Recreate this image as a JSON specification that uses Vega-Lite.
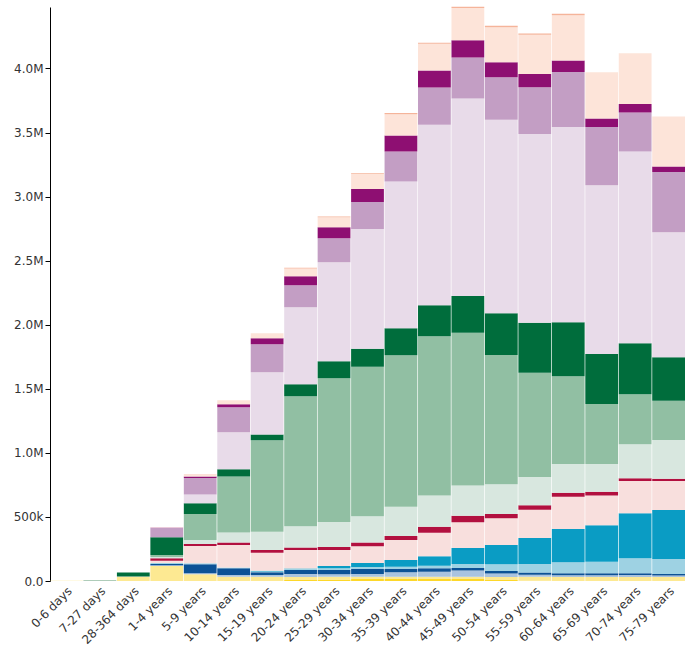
{
  "$schema": "https://vega.github.io/schema/vega-lite/v6.json",
  "width": 635,
  "height": 574,
  "autosize": "none",
  "padding": {"left": 50, "top": 7, "right": 12, "bottom": 69},
  "background": "white",
  "config": {"view": {"stroke": null}, "font": "DejaVu Sans"},
  "data": {"values": [
    {"age": "0-6 days", "Cause 01": 0, "Cause 02": 1000, "Cause 03": 500, "Cause 04": 0, "Cause 05": 0, "Cause 06": 0, "Cause 07": 0, "Cause 08": 0, "Cause 09": 0, "Cause 10": 0, "Cause 11": 0, "Cause 12": 0, "Cause 13": 0, "Cause 14": 0, "Cause 15": 0, "Cause 16": 0},
    {"age": "7-27 days", "Cause 01": 0, "Cause 02": 2000, "Cause 03": 2000, "Cause 04": 0, "Cause 05": 0, "Cause 06": 0, "Cause 07": 0, "Cause 08": 0, "Cause 09": 0, "Cause 10": 0, "Cause 11": 1000, "Cause 12": 0, "Cause 13": 0, "Cause 14": 0, "Cause 15": 0, "Cause 16": 0},
    {"age": "28-364 days", "Cause 01": 0, "Cause 02": 33000, "Cause 03": 1000, "Cause 04": 0, "Cause 05": 0, "Cause 06": 0, "Cause 07": 2000, "Cause 08": 0, "Cause 09": 0, "Cause 10": 0, "Cause 11": 31000, "Cause 12": 0, "Cause 13": 0, "Cause 14": 0, "Cause 15": 0, "Cause 16": 0},
    {"age": "1-4 years", "Cause 01": 0, "Cause 02": 117000, "Cause 03": 5000, "Cause 04": 10000, "Cause 05": 8000, "Cause 06": 0, "Cause 07": 18000, "Cause 08": 19000, "Cause 09": 10000, "Cause 10": 16000, "Cause 11": 138000, "Cause 12": 0, "Cause 13": 72000, "Cause 14": 3000, "Cause 15": 2000, "Cause 16": 0},
    {"age": "5-9 years", "Cause 01": 0, "Cause 02": 52000, "Cause 03": 8000, "Cause 04": 70000, "Cause 05": 8000, "Cause 06": 0, "Cause 07": 135000, "Cause 08": 16000, "Cause 09": 31000, "Cause 10": 203000, "Cause 11": 83000, "Cause 12": 70000, "Cause 13": 127000, "Cause 14": 13000, "Cause 15": 15000, "Cause 16": 2000},
    {"age": "10-14 years", "Cause 01": 0, "Cause 02": 34000, "Cause 03": 13000, "Cause 04": 52000, "Cause 05": 6000, "Cause 06": 0, "Cause 07": 176000, "Cause 08": 19000, "Cause 09": 78000, "Cause 10": 437000, "Cause 11": 57000, "Cause 12": 289000, "Cause 13": 195000, "Cause 14": 23000, "Cause 15": 31000, "Cause 16": 1000},
    {"age": "15-19 years", "Cause 01": 0, "Cause 02": 34000, "Cause 03": 13000, "Cause 04": 21000, "Cause 05": 6000, "Cause 06": 6000, "Cause 07": 140000, "Cause 08": 21000, "Cause 09": 143000, "Cause 10": 715000, "Cause 11": 44000, "Cause 12": 486000, "Cause 13": 218000, "Cause 14": 47000, "Cause 15": 39000, "Cause 16": 1000},
    {"age": "20-24 years", "Cause 01": 8000, "Cause 02": 23000, "Cause 03": 23000, "Cause 04": 31000, "Cause 05": 8000, "Cause 06": 5000, "Cause 07": 143000, "Cause 08": 21000, "Cause 09": 166000, "Cause 10": 1014000, "Cause 11": 94000, "Cause 12": 600000, "Cause 13": 172000, "Cause 14": 70000, "Cause 15": 62000, "Cause 16": 5000},
    {"age": "25-29 years", "Cause 01": 12000, "Cause 02": 22000, "Cause 03": 18000, "Cause 04": 34000, "Cause 05": 13000, "Cause 06": 18000, "Cause 07": 125000, "Cause 08": 23000, "Cause 09": 195000, "Cause 10": 1123000, "Cause 11": 133000, "Cause 12": 772000, "Cause 13": 187000, "Cause 14": 86000, "Cause 15": 78000, "Cause 16": 5000},
    {"age": "30-34 years", "Cause 01": 16000, "Cause 02": 18000, "Cause 03": 21000, "Cause 04": 39000, "Cause 05": 16000, "Cause 06": 31000, "Cause 07": 130000, "Cause 08": 29000, "Cause 09": 205000, "Cause 10": 1167000, "Cause 11": 140000, "Cause 12": 936000, "Cause 13": 211000, "Cause 14": 101000, "Cause 15": 117000, "Cause 16": 5000},
    {"age": "35-39 years", "Cause 01": 16000, "Cause 02": 18000, "Cause 03": 34000, "Cause 04": 26000, "Cause 05": 18000, "Cause 06": 52000, "Cause 07": 156000, "Cause 08": 31000, "Cause 09": 228000, "Cause 10": 1183000, "Cause 11": 211000, "Cause 12": 1146000, "Cause 13": 234000, "Cause 14": 125000, "Cause 15": 164000, "Cause 16": 10000},
    {"age": "40-44 years", "Cause 01": 16000, "Cause 02": 18000, "Cause 03": 39000, "Cause 04": 26000, "Cause 05": 20000, "Cause 06": 75000, "Cause 07": 182000, "Cause 08": 47000, "Cause 09": 245000, "Cause 10": 1242000, "Cause 11": 242000, "Cause 12": 1409000, "Cause 13": 291000, "Cause 14": 133000, "Cause 15": 208000, "Cause 16": 8000},
    {"age": "45-49 years", "Cause 01": 16000, "Cause 02": 18000, "Cause 03": 47000, "Cause 04": 21000, "Cause 05": 31000, "Cause 06": 125000, "Cause 07": 200000, "Cause 08": 52000, "Cause 09": 236000, "Cause 10": 1191000, "Cause 11": 288000, "Cause 12": 1541000, "Cause 13": 320000, "Cause 14": 135000, "Cause 15": 252000, "Cause 16": 8000},
    {"age": "50-54 years", "Cause 01": 8000, "Cause 02": 24000, "Cause 03": 26000, "Cause 04": 21000, "Cause 05": 52000, "Cause 06": 150000, "Cause 07": 208000, "Cause 08": 34000, "Cause 09": 232000, "Cause 10": 1008000, "Cause 11": 327000, "Cause 12": 1510000, "Cause 13": 332000, "Cause 14": 117000, "Cause 15": 273000, "Cause 16": 11000},
    {"age": "55-59 years", "Cause 01": 2000, "Cause 02": 31000, "Cause 03": 16000, "Cause 04": 18000, "Cause 05": 66000, "Cause 06": 203000, "Cause 07": 221000, "Cause 08": 34000, "Cause 09": 221000, "Cause 10": 813000, "Cause 11": 390000, "Cause 12": 1474000, "Cause 13": 364000, "Cause 14": 104000, "Cause 15": 306000, "Cause 16": 11000},
    {"age": "60-64 years", "Cause 01": 0, "Cause 02": 31000, "Cause 03": 13000, "Cause 04": 16000, "Cause 05": 86000, "Cause 06": 260000, "Cause 07": 252000, "Cause 08": 31000, "Cause 09": 224000, "Cause 10": 686000, "Cause 11": 421000, "Cause 12": 1523000, "Cause 13": 429000, "Cause 14": 91000, "Cause 15": 353000, "Cause 16": 11000},
    {"age": "65-69 years", "Cause 01": 0, "Cause 02": 31000, "Cause 03": 13000, "Cause 04": 16000, "Cause 05": 90000, "Cause 06": 286000, "Cause 07": 232000, "Cause 08": 29000, "Cause 09": 216000, "Cause 10": 468000, "Cause 11": 390000, "Cause 12": 1318000, "Cause 13": 455000, "Cause 14": 66000, "Cause 15": 361000, "Cause 16": 0},
    {"age": "70-74 years", "Cause 01": 0, "Cause 02": 31000, "Cause 03": 16000, "Cause 04": 13000, "Cause 05": 117000, "Cause 06": 351000, "Cause 07": 252000, "Cause 08": 21000, "Cause 09": 267000, "Cause 10": 390000, "Cause 11": 398000, "Cause 12": 1497000, "Cause 13": 304000, "Cause 14": 65000, "Cause 15": 398000, "Cause 16": 0},
    {"age": "75-79 years", "Cause 01": 0, "Cause 02": 31000, "Cause 03": 12000, "Cause 04": 12000, "Cause 05": 117000, "Cause 06": 382000, "Cause 07": 226000, "Cause 08": 18000, "Cause 09": 302000, "Cause 10": 306000, "Cause 11": 341000, "Cause 12": 975000, "Cause 13": 470000, "Cause 14": 44000, "Cause 15": 390000, "Cause 16": 0}
  ]},
  "transform": [
    {"fold": ["Cause 01", "Cause 02", "Cause 03", "Cause 04", "Cause 05", "Cause 06", "Cause 07", "Cause 08", "Cause 09", "Cause 10", "Cause 11", "Cause 12", "Cause 13", "Cause 14", "Cause 15", "Cause 16"], "as": ["cause", "value"]}
  ],
  "mark": {"type": "bar"},
  "encoding": {
    "x": {
      "field": "age", "type": "nominal", "sort": null,
      "scale": {"paddingInner": 0.02, "paddingOuter": 0},
      "axis": {"title": null, "labelAngle": -45, "labelAlign": "right", "labelBaseline": "top", "labelFont": "DejaVu Sans", "labelFontSize": 12, "labelColor": "#333", "ticks": false, "domain": false, "labelPadding": 4}
    },
    "y": {
      "field": "value", "type": "quantitative", "stack": "zero",
      "scale": {"nice": false, "zero": true, "domain": [0, 4480000]},
      "axis": {"title": null, "format": ".2s", "values": [0, 500000, 1000000, 1500000, 2000000, 2500000, 3000000, 3500000, 4000000], "grid": false, "domainColor": "#000", "tickColor": "#000", "labelFont": "DejaVu Sans", "labelFontSize": 12, "labelColor": "#333"}
    },
    "color": {
      "field": "cause", "type": "nominal", "legend": null,
      "scale": {
        "domain": ["Cause 01", "Cause 02", "Cause 03", "Cause 04", "Cause 05", "Cause 06", "Cause 07", "Cause 08", "Cause 09", "Cause 10", "Cause 11", "Cause 12", "Cause 13", "Cause 14", "Cause 15", "Cause 16"],
        "range": ["#fdd72a", "#fde992", "#a9c3df", "#0c5296", "#9ed2e3", "#0a9cc4", "#f8dfdd", "#b2103f", "#d8e7df", "#91bfa3", "#006d3c", "#e8dbe9", "#c39ec4", "#8e0f72", "#fde4d9", "#f5b49a"]
      }
    },
    "order": {"field": "cause", "sort": "ascending"}
  }
}
